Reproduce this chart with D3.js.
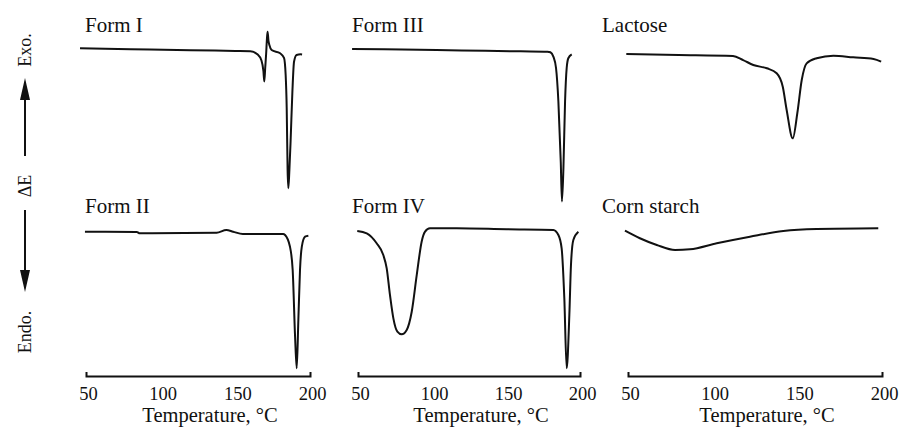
<!DOCTYPE html>
<html>
<head>
<meta charset="utf-8">
<script src="https://cdn.jsdelivr.net/npm/d3@7"></script>
<style>
  body { margin: 0; background: #fff; }
  svg { display: block; }
  .curve { fill: none; stroke: #111; stroke-width: 2; stroke-linejoin: round; }
  text { font-family: "Liberation Serif", "DejaVu Serif", serif; fill: #111; }
</style>
</head>
<body>
<div id="chart"></div>
<script>
// tick labels shared by all three temperature axes
var tickValues = [50, 100, 150, 200];
var axisTitle = "Temperature, \u00b0C";

// panel titles, top row then bottom row
var titles = ["Form I", "Form III", "Lactose", "Form II", "Form IV", "Corn starch"];

// DTA traces: [temperature in C, signal (arbitrary, 0 = baseline)]
var formI = [[46, 1.1], [80, 0.5], [120, -0.2], [150, -0.6], [160, -0.8], [165, -3], [167.5, -7],
  [168.8, -14], [169.4, -21], [170, -12], [170.6, -3], [171.2, 8], [171.6, 12.2], [172.2, 6],
  [172.8, 3.3], [174.3, 0], [180, -2.2], [182.6, -5.3], [183.7, -16.7], [184.4, -38.7], [185, -80],
  [185.5, -92.2], [186.2, -80], [187, -61], [188.2, -28], [189.3, -7.8], [191, -3.3], [193.7, -2.9], [194.7, -3]];

var formIII = [[46, 0.7], [80, 0.3], [120, -0.3], [160, -0.9], [178, -1.1], [180, -1.5], [182, -4.4],
  [183.8, -12], [185.4, -34.5], [187, -74.5], [187.8, -101], [188.8, -78.7], [189.9, -34.5],
  [191, -12], [192.1, -5.5], [194.4, -2.9]];

var lactose = [[49, -2.7], [80, -3.3], [112, -4], [118, -6.7], [124, -10], [132, -12.2], [137.8, -15.5],
  [141.4, -24.5], [143.7, -40], [147.3, -58.9], [150, -42], [152.6, -20], [155.5, -8.9], [161.4, -5.5],
  [171.3, -3.8], [183, -4.9], [195, -6], [199.5, -7.8]];

var formII = [[49.3, -1.2], [84, -1.4], [86, -2.4], [137.5, -1.9], [144, 0], [148.5, -1.2], [155, -2.9],
  [182, -2.9], [183.3, -3.6], [186.6, -12], [188.4, -28.6], [190, -76], [191.1, -98.8], [192.2, -64.3],
  [193.3, -28.6], [194.5, -12], [196.7, -4.8], [198.9, -4.1]];

var formIV = [[49.5, -0.7], [55.9, -2.4], [62.6, -9.5], [67.1, -17.9], [69.4, -27.4], [71.6, -46.4],
  [73.9, -63.1], [76.6, -72.6], [79.5, -74.5], [82.9, -71.4], [86.3, -58.4], [89.7, -32.1], [93, -8.4],
  [95.3, -1.2], [98.6, 1.2], [116.7, 1.2], [150.5, 0.5], [182, 0], [185.4, -3.6], [187.6, -13.1],
  [189.4, -48.6], [191, -98.8], [192.8, -60.7], [193.9, -25], [195.5, -7.1], [198.9, -1.2]];

var cornStarch = [[48.2, -0.5], [57, -5.9], [67, -10.7], [77.8, -14.3], [86.6, -13.8], [102.4, -9.5],
  [122, -4.8], [141.7, -0.7], [161.4, 0.7], [197.8, 1.2]];

var width = 903, height = 429;

var svg = d3.select("#chart")
  .append("svg")
    .attr("width", width)
    .attr("height", height);

// one x scale per column (the columns are not equally wide)
var xs = [
  d3.scaleLinear().domain([50, 200]).range([86, 310]),
  d3.scaleLinear().domain([50, 200]).range([358, 580]),
  d3.scaleLinear().domain([50, 200]).range([628, 882])
];
// one y scale per row
var ys = [
  d3.scaleLinear().domain([-100, 0]).range([200, 50]),
  d3.scaleLinear().domain([-100, 0]).range([370, 230])
];

var titleX = [85, 352, 602];
var titleY = [32, 213];

var panels = [
  {data: formI, col: 0, row: 0},
  {data: formIII, col: 1, row: 0},
  {data: lactose, col: 2, row: 0},
  {data: formII, col: 0, row: 1},
  {data: formIV, col: 1, row: 1},
  {data: cornStarch, col: 2, row: 1}
];

panels.forEach(function(p, i) {
  var x = xs[p.col], y = ys[p.row];
  var line = d3.line()
    .x(function(d) { return x(d[0]); })
    .y(function(d) { return y(d[1]); })
    .curve(d3.curveMonotoneX);
  svg.append("path")
    .datum(p.data)
    .attr("class", "curve")
    .attr("d", line);
  svg.append("text")
    .attr("x", titleX[p.col])
    .attr("y", titleY[p.row])
    .style("font-size", "21px")
    .text(titles[i]);
});

// temperature axes under each column
var axisY = 376;
xs.forEach(function(x) {
  var g = svg.append("g")
    .attr("transform", "translate(0," + axisY + ")")
    .call(d3.axisBottom(x).tickValues(tickValues).tickSizeInner(0).tickSizeOuter(-4));
  g.select(".domain").attr("stroke", "#111").attr("stroke-width", 2);
  g.selectAll(".tick text")
    .attr("x", 2)
    .attr("y", 24).attr("dy", null)
    .attr("font-family", null)
    .style("font-size", "18.5px");
  g.attr("font-family", null).attr("font-size", null);
  svg.append("text")
    .attr("x", (x.range()[0] + x.range()[1]) / 2 + 12)
    .attr("y", 422)
    .attr("text-anchor", "middle")
    .style("font-size", "20.5px")
    .text(axisTitle);
});

// vertical signal label with arrows
var ax = 25;
function vtext(t, cy) {
  svg.append("text")
    .attr("transform", "translate(" + (ax + 6) + "," + cy + ") rotate(-90)")
    .attr("text-anchor", "middle")
    .style("font-size", "18px")
    .text(t);
}
vtext("Exo.", 50);
vtext("\u0394E", 186);
vtext("Endo.", 332);

svg.append("line").attr("x1", ax).attr("x2", ax).attr("y1", 96).attr("y2", 156)
  .attr("stroke", "#111").attr("stroke-width", 2);
svg.append("path").attr("d", "M" + ax + ",78 L" + (ax - 5) + ",100 L" + (ax + 5) + ",100 Z").attr("fill", "#111");
svg.append("line").attr("x1", ax).attr("x2", ax).attr("y1", 210).attr("y2", 272)
  .attr("stroke", "#111").attr("stroke-width", 2);
svg.append("path").attr("d", "M" + ax + ",292 L" + (ax - 5) + ",270 L" + (ax + 5) + ",270 Z").attr("fill", "#111");
</script>
</body>
</html>
